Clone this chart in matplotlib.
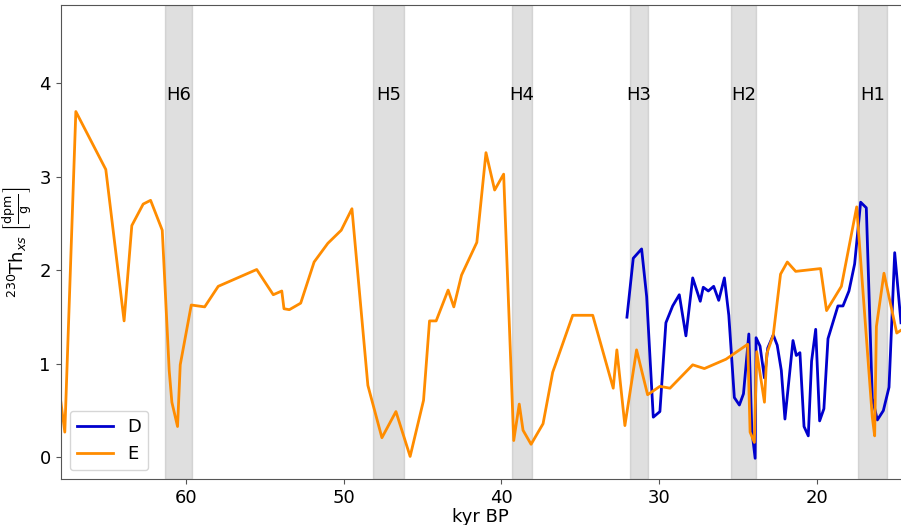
import numpy as np
import matplotlib
matplotlib.use("Agg")
import matplotlib.pyplot as plt

# core E (orange), age in kyr BP
e_age = [67.95, 67.68, 66.98, 65.08, 63.92, 63.43, 62.71, 62.24, 61.50, 61.06,
         60.89, 60.53, 60.36, 59.66, 58.81, 57.95, 55.51, 54.46, 53.92, 53.78,
         53.44, 52.72, 51.87, 51.00, 50.15, 49.47, 48.46, 47.57, 46.68, 45.78,
         44.93, 44.55, 44.13, 43.37, 43.01, 42.52, 41.55, 40.97, 40.42, 39.85,
         39.21, 38.86, 38.62, 38.11, 37.35, 36.74, 35.47, 34.20, 32.90, 32.67,
         32.16, 31.42, 30.72, 29.94, 29.30, 27.86, 27.12, 25.75, 24.37, 24.22,
         23.95, 23.80, 23.31, 23.16, 22.75, 22.29, 21.86, 21.33, 19.75, 19.37,
         18.43, 17.46, 16.47, 16.32, 16.21, 15.73, 14.92, 14.65]
e_th = [0.62, 0.27, 3.70, 3.08, 1.46, 2.48, 2.71, 2.75, 2.43, 0.93,
        0.59, 0.33, 0.99, 1.63, 1.61, 1.83, 2.01, 1.74, 1.78, 1.59,
        1.58, 1.65, 2.09, 2.29, 2.43, 2.66, 0.77, 0.21, 0.49, 0.01,
        0.61, 1.46, 1.46, 1.79, 1.61, 1.95, 2.30, 3.26, 2.86, 3.03,
        0.18, 0.57, 0.29, 0.14, 0.36, 0.91, 1.52, 1.52, 0.74, 1.15,
        0.34, 1.15, 0.67, 0.76, 0.74, 0.99, 0.95, 1.05, 1.21, 0.27,
        0.16, 1.13, 0.59, 1.11, 1.31, 1.96, 2.09, 1.99, 2.02, 1.57,
        1.83, 2.68, 0.43, 0.23, 1.40, 1.97, 1.33, 1.36]

# core D (blue)
d_age = [32.03, 31.63, 31.10, 30.78, 30.36, 29.94, 29.56, 29.13, 28.71, 28.29,
         27.86, 27.38, 27.19, 26.87, 26.53, 26.21, 25.85, 25.57, 25.22, 24.90,
         24.64, 24.30, 24.11, 23.90, 23.84, 23.59, 23.31, 23.10, 22.75, 22.50,
         22.24, 22.01, 21.50, 21.29, 21.06, 20.80, 20.53, 20.32, 20.06, 19.81,
         19.54, 19.28, 18.65, 18.33, 17.95, 17.59, 17.21, 16.85, 16.47, 16.15,
         15.77, 15.41, 15.05, 14.65]
d_th = [1.50, 2.13, 2.23, 1.72, 0.43, 0.49, 1.44, 1.62, 1.74, 1.30,
        1.92, 1.67, 1.82, 1.78, 1.83, 1.68, 1.92, 1.52, 0.64, 0.56,
        0.68, 1.32, 0.29, -0.01, 1.28, 1.19, 0.85, 1.17, 1.31, 1.20,
        0.93, 0.41, 1.25, 1.09, 1.12, 0.33, 0.23, 1.03, 1.37, 0.39,
        0.52, 1.27, 1.62, 1.62, 1.78, 2.07, 2.73, 2.67, 0.63, 0.40,
        0.50, 0.75, 2.19, 1.44]

# Heinrich events (start, end) in kyr BP
h_names = ["H6", "H5", "H4", "H3", "H2", "H1"]
h_start = [61.3, 48.15, 39.35, 31.85, 25.4, 17.4]
h_end = [59.6, 46.15, 38.05, 30.7, 23.85, 15.55]

fig = plt.figure(figsize=(9.01, 5.25), dpi=100)
ax = fig.add_axes([0.0672, 0.087, 0.9328, 0.9035])

for name, a, b in zip(h_names, h_start, h_end):
    ax.axvspan(b, a, color="grey", alpha=0.25)
    ax.text((a + b) / 2, 3.88, name, ha="center", va="center", fontsize=13)

ax.plot(d_age, d_th, color="mediumblue", lw=2, label="D")
ax.plot(e_age, e_th, color="darkorange", lw=2, label="E")

ax.set_xlim(67.95, 14.65)
ax.set_ylim(-0.235, 4.84)
ax.set_yticks([0, 1, 2, 3, 4])
ax.set_xticks([60, 50, 40, 30, 20])
ax.tick_params(labelsize=13, color="#555555")
for s in ax.spines.values():
    s.set_color("#555555")
ax.spines["right"].set_visible(False)
ax.set_xlabel("kyr BP", fontsize=13, labelpad=1)
ax.set_ylabel(r"$^{230}$Th$_{xs}$ $\left[\frac{\mathrm{dpm}}{\mathrm{g}}\right]$",
              fontsize=13)
ax.legend(loc="lower left", fontsize=13)

fig.savefig("out.png", dpi=100)
